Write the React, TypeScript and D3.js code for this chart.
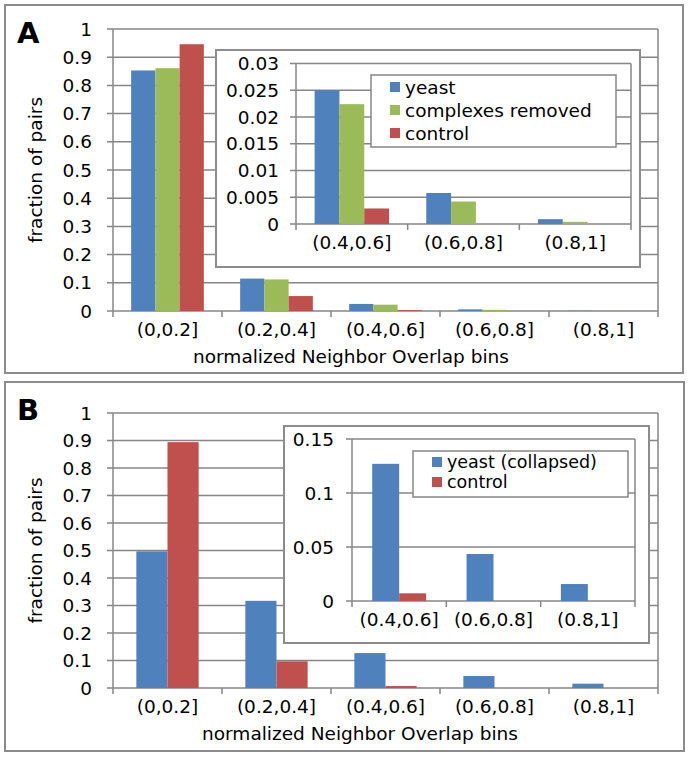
import * as d3 from "d3";

const bins = ["(0,0.2]", "(0.2,0.4]", "(0.4,0.6]", "(0.6,0.8]", "(0.8,1]"];
const insetBins = bins.slice(2);

// panel A
const aSeries = ["yeast", "complexes removed", "control"];
const aYeast = [0.853, 0.115, 0.025, 0.0058, 0.0009];
const aComplexes = [0.861, 0.112, 0.0224, 0.0042, 0.0004];
const aControl = [0.946, 0.053, 0.0029, 0, 0];
const aInsetTicks = [0, 0.005, 0.01, 0.015, 0.02, 0.025, 0.03];

// panel B
const bSeries = ["yeast (collapsed)", "control"];
const bYeast = [0.497, 0.317, 0.127, 0.0435, 0.0157];
const bControl = [0.894, 0.097, 0.0071, 0, 0];
const bInsetTicks = [0, 0.05, 0.1, 0.15];

const mainTicks = d3.range(0, 11).map((i) => i / 10);

const blue = "#4f81bd";
const green = "#9bbb59";
const red = "#c0504d";
const grid = "#868686";
const font = "DejaVu Sans";
const fs = 18.5;

function Bars({ plot, cats, values, colors, ticks, labelX }: any) {
  const x = d3.scaleBand().domain(cats).range([plot.x0, plot.x1]);
  const y = d3.scaleLinear().domain([0, ticks[ticks.length - 1]]).range([plot.y1, plot.y0]);
  const cw = x.bandwidth();
  const n = values.length;
  const bw = cw / (n + 1.5);
  const inner = d3
    .scaleBand()
    .domain(d3.range(n).map(String))
    .range([(cw - n * bw) / 2, (cw + n * bw) / 2]);
  return (
    <g>
      {ticks.map((t: number) => (
        <g key={t}>
          <line x1={plot.x0 - 6} x2={plot.x1} y1={y(t)} y2={y(t)} stroke={grid} strokeWidth={1.5} />
          <text x={labelX} y={y(t)} dy="0.36em" textAnchor="end" fontSize={fs}>
            {String(t)}
          </text>
        </g>
      ))}
      <line x1={plot.x0} x2={plot.x0} y1={plot.y0} y2={plot.y1} stroke={grid} strokeWidth={1.5} />
      <line x1={plot.x1} x2={plot.x1} y1={plot.y0} y2={plot.y1} stroke={grid} strokeWidth={1.5} />
      {d3.range(cats.length + 1).map((i) => {
        const xx = plot.x0 + i * cw;
        return <line key={i} x1={xx} x2={xx} y1={plot.y1} y2={plot.y1 + 6} stroke={grid} strokeWidth={1.5} />;
      })}
      {values.map((vals: number[], si: number) =>
        vals.map((v, ci) => (
          <rect
            key={si + "-" + ci}
            x={(x(cats[ci]) as number) + (inner(String(si)) as number)}
            width={bw}
            y={y(v)}
            height={plot.y1 - y(v)}
            fill={colors[si]}
          />
        ))
      )}
      {cats.map((c: string) => (
        <text key={c} x={(x(c) as number) + cw / 2} y={plot.y1 + 25} textAnchor="middle" fontSize={fs}>
          {c}
        </text>
      ))}
    </g>
  );
}

function Legend({ box, names, colors, rowY, size }: any) {
  return (
    <g>
      <rect x={box.x0} y={box.y0} width={box.x1 - box.x0} height={box.y1 - box.y0} fill="#fff" stroke={grid} strokeWidth={1.5} />
      {names.map((nm: string, i: number) => (
        <g key={nm}>
          <rect x={box.x0 + 19} y={rowY[i] - 5} width={10} height={10} fill={colors[i]} />
          <text x={box.x0 + 34} y={rowY[i]} dy="0.36em" fontSize={size}>
            {nm}
          </text>
        </g>
      ))}
    </g>
  );
}

function Panel({ outer, label, plot, titleX, values, colors, inset, insetPlot, insetTicks, insetLabelX, legend, legendRows, legendSize, names }: any) {
  const insetVals = values.map((v: number[]) => v.slice(2));
  return (
    <g>
      <rect x={outer.x0} y={outer.y0} width={outer.x1 - outer.x0} height={outer.y1 - outer.y0} fill="#fff" stroke="#8c8c8c" strokeWidth={2} />
      <text x={outer.x0 + 12} y={outer.y0 + 38} fontSize={29} fontWeight="bold">
        {label}
      </text>
      <Bars plot={plot} cats={bins} values={values} colors={colors} ticks={mainTicks} labelX={92} />
      <text
        transform={`translate(35,${(plot.y0 + plot.y1) / 2}) rotate(-90)`}
        textAnchor="middle"
        dy="0.36em"
        fontSize={fs}
      >
        fraction of pairs
      </text>
      <text x={titleX} y={plot.y1 + 52} textAnchor="middle" fontSize={fs}>
        normalized Neighbor Overlap bins
      </text>
      <rect x={inset.x0} y={inset.y0} width={inset.x1 - inset.x0} height={inset.y1 - inset.y0} fill="#fff" stroke="#8c8c8c" strokeWidth={2} />
      <Bars plot={insetPlot} cats={insetBins} values={insetVals} colors={colors} ticks={insetTicks} labelX={insetLabelX} />
      <Legend box={legend} names={names} colors={colors} rowY={legendRows} size={legendSize} />
    </g>
  );
}

export default function App() {
  return (
    <svg
      width={691}
      height={758}
      style={{ position: "absolute", left: 0, top: 0, fontFamily: font }}
      fill="#000"
    >
      <rect width={691} height={758} fill="#fff" />
      <Panel
        outer={{ x0: 5, x1: 683, y0: 5, y1: 373 }}
        label="A"
        plot={{ x0: 113, x1: 658, y0: 29, y1: 311 }}
        titleX={351}
        values={[aYeast, aComplexes, aControl]}
        colors={[blue, green, red]}
        inset={{ x0: 216, x1: 640, y0: 50, y1: 267 }}
        insetPlot={{ x0: 296, x1: 631, y0: 63.5, y1: 224 }}
        insetTicks={aInsetTicks}
        insetLabelX={279}
        legend={{ x0: 371, x1: 616, y0: 75, y1: 147 }}
        legendRows={[87, 110, 133]}
        legendSize={fs}
        names={aSeries}
      />
      <Panel
        outer={{ x0: 5, x1: 684, y0: 382, y1: 751 }}
        label="B"
        plot={{ x0: 113, x1: 658, y0: 413, y1: 688 }}
        titleX={360}
        values={[bYeast, bControl]}
        colors={[blue, red]}
        inset={{ x0: 284, x1: 649, y0: 426, y1: 643 }}
        insetPlot={{ x0: 352, x1: 635, y0: 439, y1: 601 }}
        insetTicks={bInsetTicks}
        insetLabelX={334}
        legend={{ x0: 413, x1: 628, y0: 451, y1: 497 }}
        legendRows={[462, 482]}
        legendSize={17.5}
        names={bSeries}
      />
    </svg>
  );
}
